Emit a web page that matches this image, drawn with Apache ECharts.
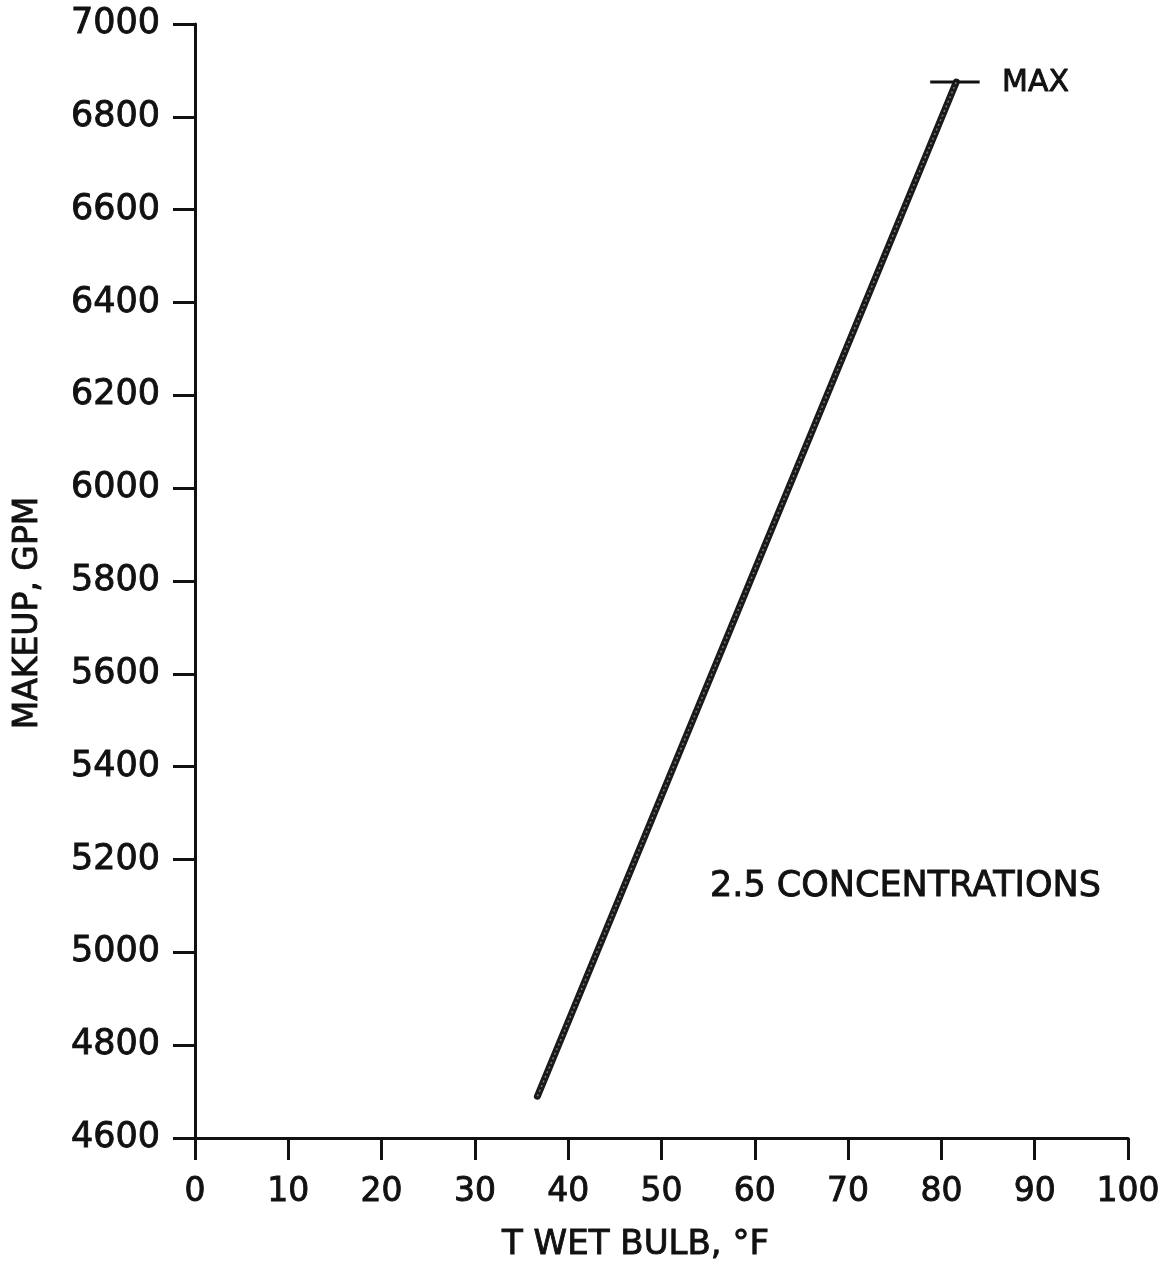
<!DOCTYPE html>
<html>
<head>
<meta charset="utf-8">
<script src="https://cdn.jsdelivr.net/npm/echarts@6/dist/echarts.min.js"></script>
<style>
html,body{margin:0;padding:0;background:#fff;}
#chart{width:1169px;height:1270px;}
</style>
</head>
<body>
<div id="chart"></div>
<script>
// Data
var xTicks = [0, 10, 20, 30, 40, 50, 60, 70, 80, 90, 100];
var yTicks = [4600, 4800, 5000, 5200, 5400, 5600, 5800, 6000, 6200, 6400, 6600, 6800, 7000];
var wetBulbF = [36.7, 81.6];
var makeupGpm = [4690, 6875];
var maxMarkX = [78.8, 84.1];
var maxMarkY = [6875, 6875];
var maxLabel = 'MAX';
var maxLabelPos = [86.5, 6872];
var noteLabel = '2.5 CONCENTRATIONS';
var notePos = [55.2, 5140];
var xTitle = 'T WET BULB, °F';
var yTitle = 'MAKEUP, GPM';

var font = 'DejaVu Sans';
var ink = '#111';
var thick = {textBorderColor: ink, textBorderWidth: 0.9};

var chart = echarts.init(document.getElementById('chart'), null, {renderer: 'canvas'});
chart.setOption({
  backgroundColor: '#fff',
  animation: false,
  grid: {left: 195, right: 41, top: 24, bottom: 132, containLabel: false},
  xAxis: {
    type: 'value', min: xTicks[0], max: xTicks[xTicks.length - 1], interval: 10,
    name: xTitle, nameLocation: 'middle', nameGap: 90,
    nameTextStyle: Object.assign({fontFamily: font, fontSize: 34, color: ink, verticalAlign: 'top', padding: [0, 52, 0, 0]}, thick),
    axisLine: {lineStyle: {color: ink, width: 3}},
    axisTick: {show: true, inside: false, length: 22, lineStyle: {color: ink, width: 3}},
    axisLabel: Object.assign({fontFamily: font, fontSize: 33, color: ink, margin: 38, formatter: function(v){return String(v);}}, thick),
    splitLine: {show: false}
  },
  yAxis: {
    type: 'value', min: yTicks[0], max: yTicks[yTicks.length - 1], interval: 200,
    name: yTitle, nameLocation: 'middle', nameGap: 150,
    nameTextStyle: Object.assign({fontFamily: font, fontSize: 33, color: ink, padding: [0, 64, 0, 0]}, thick),
    axisLine: {show: true, lineStyle: {color: ink, width: 3}},
    axisTick: {show: true, inside: false, length: 22, lineStyle: {color: ink, width: 3}},
    axisLabel: Object.assign({fontFamily: font, fontSize: 35, color: ink, margin: 35, formatter: function(v){return String(v);}}, thick),
    splitLine: {show: false}
  },
  series: [
    {
      type: 'line', data: wetBulbF.map(function(x, i){return [x, makeupGpm[i]];}),
      showSymbol: false, lineStyle: {color: '#1a1a1a', width: 7, cap: 'round'}, z: 3
    },
    {
      type: 'line', data: wetBulbF.map(function(x, i){return [x, makeupGpm[i]];}),
      showSymbol: false, lineStyle: {color: '#777', width: 1.5, type: [2, 3]}, z: 4
    },
    {
      type: 'line', data: maxMarkX.map(function(x, i){return [x, maxMarkY[i]];}),
      showSymbol: false, lineStyle: {color: ink, width: 3}, z: 3
    },
    {
      type: 'scatter', symbolSize: 0, silent: true,
      itemStyle: {color: ink, opacity: 1},
      data: [
        {value: maxLabelPos, label: {formatter: maxLabel, fontSize: 30, color: ink}},
        {value: notePos, label: {formatter: noteLabel, fontSize: 35, color: ink}}
      ],
      label: Object.assign({show: true, position: 'right', distance: 0, fontFamily: font, color: ink, opacity: 1}, thick)
    }
  ]
});
</script>
</body>
</html>
